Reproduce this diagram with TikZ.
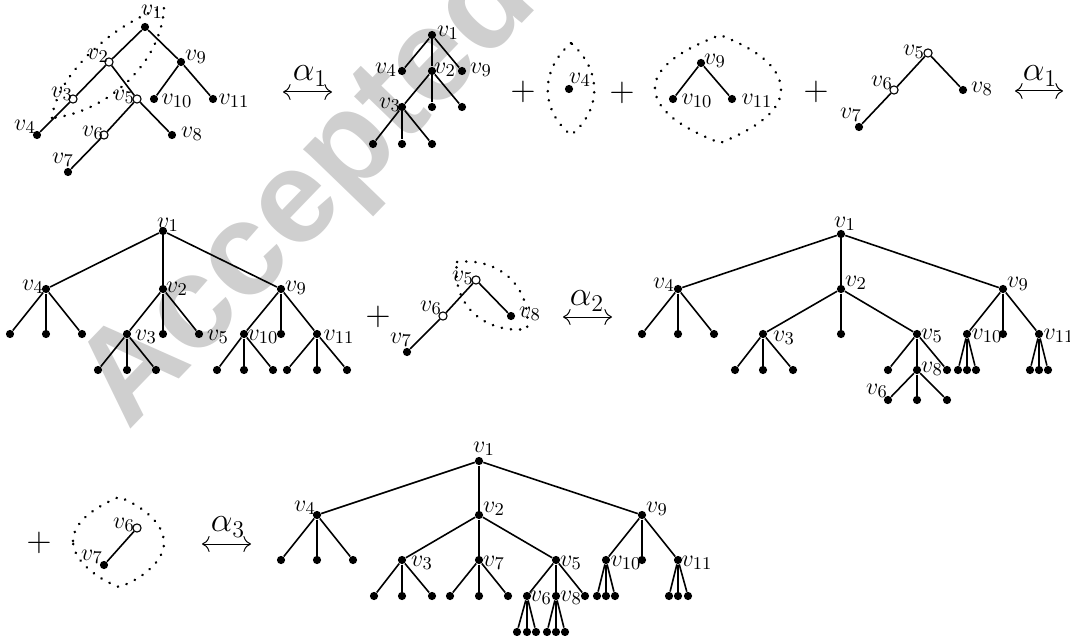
\documentclass[tikz,border=0pt]{standalone}
\usepackage{fontspec}
\newfontfamily\wmfont{Liberation Sans}
\usetikzlibrary{arrows.meta}
\begin{document}
\begin{tikzpicture}[x=0.5pt,y=-0.5pt,
  dot/.style={circle,fill=black,inner sep=0pt,minimum size=4.1pt},
  odot/.style={circle,draw=black,fill=white,line width=0.55pt,inner sep=0pt,minimum size=4.1pt},
  lab/.style={font=\fontsize{12.5}{14}\selectfont,inner sep=0pt},
  lb/.style n args={3}{label={[lab,xshift=#1*0.5pt,yshift=#2*0.5pt]center:$v_{#3}$}},
  e/.style={line width=0.8pt},
  ev/.style={line width=1.4pt},
  dots/.style={line width=1.35pt,dash pattern=on 0.1pt off 4.5pt,line cap=round},
  plus/.style={font=\fontsize{17}{19}\selectfont,inner sep=0pt},
  rel/.style={line width=0.5pt,{Computer Modern Rightarrow[scale=1.4]}-{Computer Modern Rightarrow[scale=1.4]}},
  al/.style={font=\fontsize{18.5}{20}\selectfont,inner sep=0pt}]
\useasboundingbox (0,0) rectangle (1070,636);
\begin{scope}
\clip (0,0) rectangle (1070,636);
\node[rotate=46,anchor=base west,text=black!19,font=\wmfont\bfseries\fontsize{66}{70}\selectfont,inner sep=0pt] (wm) at (128,432) {Accepted manuscript};
\end{scope}

% ---------- Row 1, panel A ----------
\node[dot,lb={7}{15}{1}] (a1) at (145,27) {};
\node[odot,lb={-11}{6}{2}] (a2) at (109,62) {};
\node[odot,lb={-11}{5}{3}] (a3) at (73,99) {};
\node[dot,lb={-12}{8}{4}] (a4) at (37,135) {};
\node[odot,lb={-13}{2}{5}] (a5) at (137,99) {};
\node[odot,lb={-11}{2}{6}] (a6) at (104,135) {};
\node[dot,lb={-5}{12}{7}] (a7) at (68,172) {};
\node[dot,lb={20}{1}{8}] (a8) at (172,135) {};
\node[dot,lb={15}{5}{9}] (a9) at (181,62) {};
\node[dot,lb={23}{-2}{10}] (a10) at (154,99) {};
\node[dot,lb={21}{-2}{11}] (a11) at (213,99) {};
\draw[e] (a1)--(a2) (a1)--(a9) (a2)--(a3) (a3)--(a4) (a2)--(a5) (a5)--(a6) (a6)--(a7) (a5)--(a8) (a9)--(a10) (a9)--(a11);
\draw[dots] (52,118) .. controls (56,78) and (108,26) .. (164,7) .. controls (162,62) and (108,112) .. (52,118);

\coordinate (r1a) at (283,92); \coordinate (r1b) at (332,92);
\draw[rel] (r1a) -- (r1b);
\node[al] (r1l) at (310,76) {$\alpha_1$};

% ---------- panel B ----------
\node[dot,lb={16}{2}{1}] (b1) at (432,35) {};
\node[dot,lb={-16}{1}{4}] (b4) at (402,71) {};
\node[dot,lb={13}{1}{2}] (b2) at (432,71) {};
\node[dot,lb={19}{1}{9}] (b9) at (462,71) {};
\node[dot,lb={-12}{2}{3}] (b3) at (402,107) {};
\node[dot] (b2m) at (432,107) {};
\node[dot] (b2r) at (462,107) {};
\node[dot] (b3l) at (373,144) {};
\node[dot] (b3m) at (402,144) {};
\node[dot] (b3r) at (432,144) {};
\draw[e] (b1)--(b4) (b1)--(b9) (b2)--(b3) (b2)--(b2r) (b3)--(b3l) (b3)--(b3r);
\draw[ev] (b1)--(b2) (b2)--(b2m) (b3)--(b3m);

\node[plus] (p1) at (523,92) {$+$};

% ---------- panel C ----------
\node[dot,lb={11}{9}{4}] (c4) at (569,89) {};
\draw[dots] (571,43) .. controls (540,70) and (540,110) .. (571,135) .. controls (602,110) and (602,70) .. (571,43);

\node[plus] (p2) at (622,93) {$+$};

% ---------- panel D ----------
\node[dot,lb={14}{2}{9}] (d9) at (701,63) {};
\node[dot,lb={24}{-2}{10}] (d10) at (673,99) {};
\node[dot,lb={25}{-2}{11}] (d11) at (732,99) {};
\draw[e] (d9)--(d10) (d9)--(d11);
\draw[dots] (655,88) .. controls (655,62) and (695,45) .. (720,35) .. controls (745,45) and (781,62) .. (781,90) .. controls (781,115) and (745,133) .. (720,143) .. controls (695,133) and (655,115) .. (655,88);

\node[plus] (p3) at (816,92) {$+$};

% ---------- panel E ----------
\node[odot,lb={-14}{1}{5}] (e5) at (928,53) {};
\node[odot,lb={-12}{7}{6}] (e6) at (894,90) {};
\node[dot,lb={-8}{12}{7}] (e7) at (859,127) {};
\node[dot,lb={19}{1}{8}] (e8) at (963,90) {};
\draw[e] (e5)--(e6) (e6)--(e7) (e5)--(e8);

\coordinate (r2a) at (1015,91); \coordinate (r2b) at (1063,91);
\draw[rel] (r2a) -- (r2b);
\node[al] (r2l) at (1040,76) {$\alpha_1$};

% ---------- Row 2, panel F ----------
\node[dot,lb={5}{6}{1}] (f1) at (163,231) {};
\node[dot,lb={-13}{2}{4}] (f4) at (46,289) {};
\node[dot,lb={14}{0}{2}] (f2) at (163,289) {};
\node[dot,lb={15}{1}{9}] (f9) at (281,289) {};
\node[dot] (f4a) at (10,334) {};
\node[dot] (f4b) at (46,334) {};
\node[dot] (f4c) at (82,334) {};
\node[dot,lb={19}{-3}{3}] (f3) at (127,334) {};
\node[dot] (f2m) at (163,334) {};
\node[dot,lb={19}{-3}{5}] (f5) at (199,334) {};
\node[dot,lb={19}{-3}{10}] (f10) at (244,334) {};
\node[dot] (f9m) at (281,334) {};
\node[dot,lb={22}{-3}{11}] (f11) at (317,334) {};
\node[dot] (f3a) at (98,370) {};
\node[dot] (f3b) at (127,370) {};
\node[dot] (f3c) at (156,370) {};
\node[dot] (f10a) at (217,370) {};
\node[dot] (f10b) at (244,370) {};
\node[dot] (f10c) at (273,370) {};
\node[dot] (f11a) at (287,370) {};
\node[dot] (f11b) at (317,370) {};
\node[dot] (f11c) at (347,370) {};
\draw[e] (f1)--(f4) (f1)--(f9) (f4)--(f4a) (f4)--(f4c) (f2)--(f3) (f2)--(f5) (f9)--(f10) (f9)--(f11)
  (f3)--(f3a) (f3)--(f3c) (f10)--(f10a) (f10)--(f10c) (f11)--(f11a) (f11)--(f11c);
\draw[ev] (f1)--(f2) (f4)--(f4b) (f2)--(f2m) (f9)--(f9m) (f3)--(f3b) (f10)--(f10b) (f11)--(f11b);

\node[plus] (p4) at (378,317) {$+$};

% ---------- panel G ----------
\node[odot,lb={-13}{2}{5}] (g5) at (476,280) {};
\node[odot,lb={-12}{8}{6}] (g6) at (443,316) {};
\node[dot,lb={-6}{12}{7}] (g7) at (407,352) {};
\node[dot,lb={19}{2}{8}] (g8) at (511,316) {};
\draw[e] (g5)--(g6) (g6)--(g7) (g5)--(g8);
\draw[dots] (457,262) .. controls (502,257) and (532,290) .. (527,329) .. controls (486,334) and (451,306) .. (457,262);

\coordinate (r3a) at (563,317); \coordinate (r3b) at (612,317);
\draw[rel] (r3a) -- (r3b);
\node[al] (r3l) at (587,301) {$\alpha_2$};

% ---------- panel H ----------
\node[dot,lb={4}{10}{1}] (h1) at (841,234) {};
\node[dot,lb={-14}{4}{4}] (h4) at (678,289) {};
\node[dot,lb={15}{6}{2}] (h2) at (841,289) {};
\node[dot,lb={15}{5}{9}] (h9) at (1003,289) {};
\node[dot] (h4a) at (642,334) {};
\node[dot] (h4b) at (678,334) {};
\node[dot] (h4c) at (714,334) {};
\node[dot,lb={21}{-4}{3}] (h3) at (763,334) {};
\node[dot] (h2m) at (841,334) {};
\node[dot,lb={15}{-2}{5}] (h5) at (917,334) {};
\node[dot,lb={20}{-2}{10}] (h10) at (967,334) {};
\node[dot] (h9m) at (1003,334) {};
\node[dot,lb={20}{-2}{11}] (h11) at (1039,334) {};
\node[dot] (h3a) at (735,370) {};
\node[dot] (h3b) at (763,370) {};
\node[dot] (h3c) at (793,370) {};
\node[dot] (h5a) at (888,370) {};
\node[dot,lb={15}{1}{8}] (h8) at (917,370) {};
\node[dot] (h5c) at (947,370) {};
\node[dot,lb={-11}{9}{6}] (h6) at (888,400) {};
\node[dot] (h8b) at (917,400) {};
\node[dot] (h8c) at (947,400) {};
\node[dot] (h10a) at (958,370) {};
\node[dot] (h10b) at (967,370) {};
\node[dot] (h10c) at (976,370) {};
\node[dot] (h11a) at (1030,370) {};
\node[dot] (h11b) at (1039,370) {};
\node[dot] (h11c) at (1048,370) {};
\draw[e] (h1)--(h4) (h1)--(h9) (h4)--(h4a) (h4)--(h4c) (h2)--(h3) (h2)--(h5) (h9)--(h10) (h9)--(h11)
  (h3)--(h3a) (h3)--(h3c) (h5)--(h5a) (h5)--(h5c) (h8)--(h6) (h8)--(h8c)
  (h10)--(h10a) (h10)--(h10c) (h11)--(h11a) (h11)--(h11c);
\draw[ev] (h1)--(h2) (h4)--(h4b) (h2)--(h2m) (h9)--(h9m) (h3)--(h3b) (h5)--(h8) (h8)--(h8b) (h10)--(h10b) (h11)--(h11b);

% ---------- Row 3, panel I ----------
\node[plus] (p5) at (39,543) {$+$};
\node[odot,lb={-13}{3}{6}] (i6) at (137,528) {};
\node[dot,lb={-12}{8}{7}] (i7) at (104,565) {};
\draw[e] (i6)--(i7);
\draw[dots] (73,541) .. controls (73,520) and (100,505) .. (119,497) .. controls (140,505) and (164,522) .. (164,543) .. controls (164,562) and (140,580) .. (119,587) .. controls (100,580) and (73,562) .. (73,541);

\coordinate (r4a) at (202,544); \coordinate (r4b) at (251,544);
\draw[rel] (r4a) -- (r4b);
\node[al] (r4l) at (228,527) {$\alpha_3$};

% ---------- panel J ----------
\node[dot,lb={5}{12}{1}] (j1) at (479,461) {};
\node[dot,lb={-12}{7}{4}] (j4) at (317,515) {};
\node[dot,lb={15}{6}{2}] (j2) at (479,515) {};
\node[dot,lb={15}{6}{9}] (j9) at (642,515) {};
\node[dot] (j4a) at (281,560) {};
\node[dot] (j4b) at (317,560) {};
\node[dot] (j4c) at (353,560) {};
\node[dot,lb={20}{-3}{3}] (j3) at (402,560) {};
\node[dot,lb={15}{-3}{7}] (j7) at (479,560) {};
\node[dot,lb={15}{-3}{5}] (j5) at (556,560) {};
\node[dot,lb={20}{-3}{10}] (j10) at (606,560) {};
\node[dot] (j9m) at (642,560) {};
\node[dot,lb={19}{-3}{11}] (j11) at (678,560) {};
\node[dot] (j3a) at (374,596) {};
\node[dot] (j3b) at (402,596) {};
\node[dot] (j3c) at (432,596) {};
\node[dot] (j7a) at (450,596) {};
\node[dot] (j7b) at (479,596) {};
\node[dot] (j7c) at (508,596) {};
\node[dot,lb={14}{-2}{6}] (j6) at (527,596) {};
\node[dot,lb={15}{-2}{8}] (j8) at (556,596) {};
\node[dot] (j5c) at (585,596) {};
\node[dot] (j6a) at (517,632) {};
\node[dot] (j6b) at (527,632) {};
\node[dot] (j6c) at (536,632) {};
\node[dot] (j8a) at (547,632) {};
\node[dot] (j8b) at (556,632) {};
\node[dot] (j8c) at (565,632) {};
\node[dot] (j10a) at (597,596) {};
\node[dot] (j10b) at (606,596) {};
\node[dot] (j10c) at (615,596) {};
\node[dot] (j11a) at (669,596) {};
\node[dot] (j11b) at (678,596) {};
\node[dot] (j11c) at (688,596) {};
\draw[e] (j1)--(j4) (j1)--(j9) (j4)--(j4a) (j4)--(j4c) (j2)--(j3) (j2)--(j5) (j9)--(j10) (j9)--(j11)
  (j3)--(j3a) (j3)--(j3c) (j7)--(j7a) (j7)--(j7c) (j5)--(j6) (j5)--(j5c)
  (j6)--(j6a) (j6)--(j6c) (j8)--(j8a) (j8)--(j8c) (j10)--(j10a) (j10)--(j10c) (j11)--(j11a) (j11)--(j11c);
\draw[ev] (j1)--(j2) (j4)--(j4b) (j2)--(j7) (j9)--(j9m) (j3)--(j3b) (j7)--(j7b) (j5)--(j8) (j6)--(j6b) (j8)--(j8b) (j10)--(j10b) (j11)--(j11b);
\end{tikzpicture}
\end{document}
